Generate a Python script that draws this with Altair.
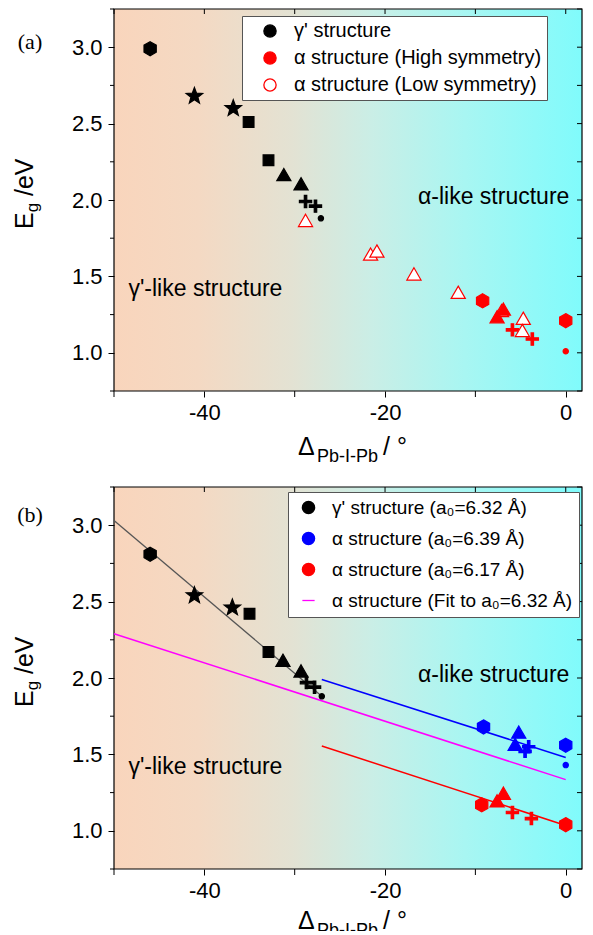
import math
import altair as alt
import pandas as pd

SANS = "Liberation Sans"
SERIF = "Liberation Serif"

# ---------------- panel (a) values ----------------
A_GAMMA_X = [-46.0, -41.1, -36.8, -35.1, -32.9, -31.2, -29.3, -28.8, -27.7, -27.1]
A_GAMMA_Y = [2.99, 2.68, 2.60, 2.51, 2.26, 2.16, 2.10, 1.99, 1.96, 1.88]
A_GAMMA_M = ["hex", "star", "star", "square", "square", "tri", "tri", "plus", "plus", "dot"]

A_LOW_X = [-28.8, -21.6, -20.9, -16.8, -11.9, -7.1, -4.7, -4.8]
A_LOW_Y = [1.86, 1.64, 1.66, 1.51, 1.39, 1.27, 1.22, 1.14]

A_HIGH_X = [-9.2, -6.9, -7.6, -5.9, -3.7, 0.0, 0.0]
A_HIGH_Y = [1.34, 1.28, 1.23, 1.15, 1.09, 1.21, 1.01]
A_HIGH_M = ["hex", "tri", "tri", "plus", "plus", "hex", "dot"]

A_LEGEND = ["γ' structure", "α structure (High symmetry)", "α structure (Low symmetry)"]

# ---------------- panel (b) values ----------------
B_GAMMA_X = [-46.0, -41.1, -36.9, -35.0, -32.9, -31.3, -29.3, -28.7, -27.8, -27.0]
B_GAMMA_Y = [2.81, 2.54, 2.46, 2.42, 2.17, 2.11, 2.04, 1.97, 1.94, 1.88]
B_GAMMA_M = ["hex", "star", "star", "square", "square", "tri", "tri", "plus", "plus", "dot"]

B_BLUE_X = [-9.1, -5.2, -5.6, -4.1, -4.5, 0.0, 0.0]
B_BLUE_Y = [1.68, 1.64, 1.56, 1.55, 1.52, 1.56, 1.43]
B_BLUE_M = ["hex", "tri", "tri", "plus", "plus", "hex", "dot"]

B_RED_X = [-9.3, -6.9, -7.6, -5.9, -3.8, 0.0]
B_RED_Y = [1.17, 1.24, 1.19, 1.12, 1.08, 1.04]
B_RED_M = ["hex", "tri", "tri", "plus", "plus", "hex"]

FIT_GAMMA_X = [-50.0, -27.0]
FIT_GAMMA_Y = [3.03, 1.88]
FIT_MAG_X = [-50.0, 0.0]
FIT_MAG_Y = [2.29, 1.335]
FIT_BLUE_X = [-27.0, 0.0]
FIT_BLUE_Y = [1.99, 1.48]
FIT_RED_X = [-27.0, 0.0]
FIT_RED_Y = [1.555, 1.035]

B_LEGEND = ["γ' structure (a₀=6.32 Å)", "α structure (a₀=6.39 Å)",
            "α structure (a₀=6.17 Å)", "α structure (Fit to a₀=6.32 Å)"]

# annotations
ANN_TEXT = ["α-like structure", "γ'-like structure"]
ANN_X = [0.4, -48.4]
ANN_Y = [2.02, 1.415]

X_MAJOR = [-40, -20, 0]
X_MINOR = [-50, -30, -10]
Y_MAJOR = [1.0, 1.5, 2.0, 2.5, 3.0]
Y_MINOR = [0.75, 1.25, 1.75, 2.25, 2.75, 3.25]
X_DOMAIN = [-50, 1.8]
Y_DOMAIN = [0.75, 3.25]

# ---------------- style ----------------
W, H = 468, 382
RED, BLUE, BLACK, MAG = "#FF0000", "#0000FF", "#000000", "#FF00FF"


def star_path(outer=1.0, inner=0.42):
    pts = []
    for i in range(10):
        r = outer if i % 2 == 0 else inner
        a = -math.pi / 2 + i * math.pi / 5
        pts.append(f"{r * math.cos(a):.3f},{r * math.sin(a):.3f}")
    return "M" + "L".join(pts) + "Z"


MARKERS = ["hex", "star", "square", "tri", "plus", "dot"]
PATHS = [
    "M0,-1L0.866,-0.5L0.866,0.5L0,1L-0.866,0.5L-0.866,-0.5Z",
    star_path(),
    "M-1,-1H1V1H-1Z",
    "M0,-1L1,0.73L-1,0.73Z",
    "M-1,-0.2H-0.2V-1H0.2V-0.2H1V0.2H0.2V1H-0.2V0.2H-1Z",
    "circle",
]
MSIZE = {"hex": 200, "star": 300, "square": 115, "tri": 200, "plus": 150, "dot": 28}

GRAD = alt.LinearGradient(
    gradient="linear", x1=0, x2=1, y1=0, y2=0,
    stops=[
        alt.GradientStop(offset=0.0, color="#F9D5BC"),
        alt.GradientStop(offset=0.18, color="#F4D9C3"),
        alt.GradientStop(offset=0.38, color="#E3E2D3"),
        alt.GradientStop(offset=0.55, color="#CAEEE6"),
        alt.GradientStop(offset=0.75, color="#A8F6F2"),
        alt.GradientStop(offset=1.0, color="#80FBFC"),
    ],
)

XAXIS = alt.Axis(values=X_MAJOR, title=None, domain=False, grid=False,
                 labelExpr="toString(datum.value)",
                 tickSize=6, tickColor="black", tickWidth=1,
                 labelFontSize=22, labelFont=SANS, labelColor="black",
                 labelPadding=5, labelOverlap=False, zindex=1)
YAXIS = alt.Axis(values=Y_MAJOR, title=None, domain=False, grid=False, format=".1f",
                 tickSize=6, tickColor="black", tickWidth=1,
                 labelFontSize=22, labelFont=SANS, labelColor="black",
                 labelPadding=6, labelOverlap=False, zindex=1)
XSCALE = alt.Scale(domain=X_DOMAIN, nice=False, zero=False)
YSCALE = alt.Scale(domain=Y_DOMAIN, nice=False, zero=False)
ONE = pd.DataFrame({"a": [0]})


def X(f):
    return alt.X(f, type="quantitative", scale=XSCALE, axis=XAXIS)


def Y(f):
    return alt.Y(f, type="quantitative", scale=YSCALE, axis=YAXIS)


def pts(xs, ys, ms, fill, stroke):
    return pd.DataFrame({"x": xs, "y": ys, "m": ms, "fc": [fill] * len(xs),
                         "sc": [stroke] * len(xs), "s": [MSIZE[m] for m in ms]})


def txt(s, x, y, size, angle=0, align="left", baseline="alphabetic", font=SANS):
    return alt.Chart(ONE).mark_text(text=s, fontSize=size, angle=angle, align=align,
                                    baseline=baseline, font=font, color="black").encode(
        x=alt.value(x), y=alt.value(y))


def xrule(vals, y1, y2):
    return alt.Chart(pd.DataFrame({"t": vals})).mark_rule(color="black", strokeWidth=1).encode(
        x=X("t"), y=alt.value(y1), y2=alt.value(y2))


def yrule(vals, x1, x2):
    return alt.Chart(pd.DataFrame({"t": vals})).mark_rule(color="black", strokeWidth=1).encode(
        y=Y("t"), x=alt.value(x1), x2=alt.value(x2))


def panel(pts_df, lines, labels, fills, strokes, shapes, leg, tag, tag_y, title_dy):
    layers = []
    layers.append(alt.Chart(ONE).mark_rect(fill=GRAD, stroke="black", strokeWidth=1.2).encode(
        x=alt.value(0), x2=alt.value(W), y=alt.value(0), y2=alt.value(H)))
    for lx, ly, col, sw in lines:
        layers.append(alt.Chart(pd.DataFrame({"x": lx, "y": ly})).mark_line(
            color=col, strokeWidth=sw).encode(x=X("x"), y=Y("y")))
    layers.append(alt.Chart(pts_df).mark_point(filled=True, opacity=1, strokeWidth=1.2).encode(
        x=X("x"), y=Y("y"),
        shape=alt.Shape("m:N", scale=alt.Scale(domain=MARKERS, range=PATHS), legend=None),
        size=alt.Size("s:Q", scale=None, legend=None),
        fill=alt.Fill("fc:N", scale=None, legend=None),
        stroke=alt.Stroke("sc:N", scale=None, legend=None)))
    ann = pd.DataFrame({"x": ANN_X, "y": ANN_Y, "t": ANN_TEXT})
    layers.append(alt.Chart(ann.iloc[[0]]).mark_text(fontSize=23, align="right", baseline="middle",
                                                     font=SANS, color="black").encode(
        x=X("x"), y=Y("y"), text="t:N"))
    layers.append(alt.Chart(ann.iloc[[1]]).mark_text(fontSize=23, align="left", baseline="middle",
                                                     font=SANS, color="black").encode(
        x=X("x"), y=Y("y"), text="t:N"))
    # minor ticks outside, mirror ticks inside on top and right
    layers.append(xrule(X_MINOR, H, H + 6))
    layers.append(yrule(Y_MINOR, -4, 0))
    layers.append(xrule(X_MAJOR + X_MINOR, 0, 5))
    layers.append(yrule(Y_MAJOR + Y_MINOR, W - 5, W))
    # axis titles with subscripts
    layers.append(txt("E", -81, 220, 25, angle=270))
    layers.append(txt("g", -76, 203.3, 17, angle=270))
    layers.append(txt("/eV", -81, 187, 25, angle=270))
    layers.append(txt("Δ", 184, H + title_dy, 25))
    layers.append(txt("Pb-I-Pb", 203, H + title_dy + 7, 18))
    layers.append(txt("/ °", 269, H + title_dy, 25))
    layers.append(txt(tag, -84, tag_y, 22, align="center", baseline="middle", font=SERIF))
    # legend driver layer (no marks drawn, only its legend)
    n = len(labels)
    legdf = pd.DataFrame({"label": labels, "x": [0.0] * n, "y": [2.0] * n})
    L = alt.Legend(title=None, orient="none", legendX=leg["x"], legendY=leg["y"],
                   padding=leg["pad"], rowPadding=leg["row"], symbolOffset=leg["symoff"],
                   labelOffset=14, symbolSize=150, symbolStrokeWidth=1.3,
                   labelFontSize=leg["font"], labelFont=SANS, labelColor="black", labelLimit=600,
                   fillColor="white", strokeColor="#555555", cornerRadius=0, symbolOpacity=1)
    layers.append(alt.Chart(legdf).transform_filter("false").mark_point(filled=True, opacity=1).encode(
        x=X("x"), y=Y("y"),
        fill=alt.Fill("label:N", scale=alt.Scale(domain=labels, range=fills), legend=L),
        stroke=alt.Stroke("label:N", scale=alt.Scale(domain=labels, range=strokes), legend=L),
        shape=alt.Shape("label:N", scale=alt.Scale(domain=labels, range=shapes), legend=L)))
    return alt.layer(*layers).properties(width=W, height=H).resolve_scale(
        shape="independent", fill="independent", stroke="independent")


A_PTS = pd.concat([
    pts(A_GAMMA_X, A_GAMMA_Y, A_GAMMA_M, BLACK, BLACK),
    pts(A_LOW_X[:6], A_LOW_Y[:6], ["tri"] * 6, "#FFFFFF", RED),
    pts(A_HIGH_X, A_HIGH_Y, A_HIGH_M, RED, RED),
    pts(A_LOW_X[6:], A_LOW_Y[6:], ["tri"] * 2, "#FFFFFF", RED),
], ignore_index=True)

B_PTS = pd.concat([
    pts(B_GAMMA_X, B_GAMMA_Y, B_GAMMA_M, BLACK, BLACK),
    pts(B_BLUE_X, B_BLUE_Y, B_BLUE_M, BLUE, BLUE),
    pts(B_RED_X, B_RED_Y, B_RED_M, RED, RED),
], ignore_index=True)

pa = panel(A_PTS, [], A_LEGEND, [BLACK, RED, "#FFFFFF"], [BLACK, RED, RED],
           ["circle", "circle", "circle"],
           {"x": 128, "y": 7, "pad": 5, "row": 7, "symoff": 13, "font": 20}, "(a)", 33, 64)

pb = panel(B_PTS,
           [(FIT_GAMMA_X, FIT_GAMMA_Y, "#555555", 1.3),
            (FIT_MAG_X, FIT_MAG_Y, MAG, 1.5),
            (FIT_BLUE_X, FIT_BLUE_Y, BLUE, 1.5),
            (FIT_RED_X, FIT_RED_Y, RED, 1.5)],
           B_LEGEND, [BLACK, BLUE, RED, MAG], [BLACK, BLUE, RED, MAG],
           ["circle", "circle", "circle", "stroke"],
           {"x": 174, "y": 5, "pad": 6, "row": 11, "symoff": 5, "font": 19}, "(b)", 28, 60)

chart = alt.vconcat(pa, pb, spacing=20).resolve_scale(
    shape="independent", fill="independent", stroke="independent").properties(
    padding={"left": 5, "top": 0, "right": 0, "bottom": -9}
).configure(font=SANS).configure_view(stroke=None)

chart.save("out.html", embed_options={"renderer": "svg", "actions": False})
